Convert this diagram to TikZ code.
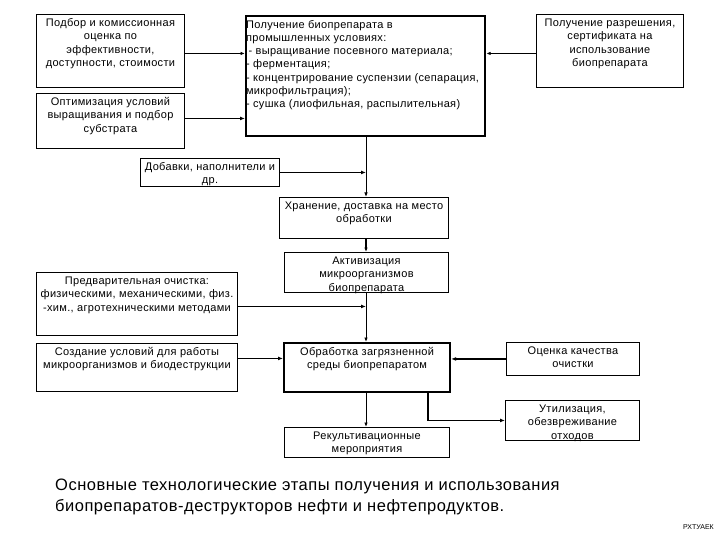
\documentclass[tikz,border=0pt]{standalone}
\usepackage{fontspec}
\setmainfont{Liberation Sans}
\usetikzlibrary{arrows.meta,calc}
\newfontfamily\boxfont[LetterSpace=3]{Liberation Sans}
\newfontfamily\capfont[LetterSpace=3]{Liberation Sans}
\newcommand{\bxt}[3]{\parbox[t][#2][t]{#1}{\centering\boxfont\fontsize{11}{13.3}\selectfont\rule{0pt}{12pt}#3}}
\newcommand{\bxl}[3]{\parbox[t][#2][t]{#1}{\raggedright\boxfont\fontsize{11}{13.3}\selectfont\rule{0pt}{12pt}#3}}
\tikzset{
  box/.style={draw, line width=0.9pt, inner sep=0pt, anchor=north west},
  thickbox/.style={box, line width=2.2pt},
  conn/.style={-{Latex[length=4.5pt,width=3.5pt]}, line width=0.9pt},
  tconn/.style={-{Latex[length=5pt,width=4pt]}, line width=1.8pt},
}
\begin{document}
\begin{tikzpicture}[x=1pt, y=-1pt]
\path[use as bounding box, fill=white] (0,0) rectangle (720,540);
\coordinate (vx) at (366,0);
\coordinate (jm) at (428,0);
\node[box] (A) at (36,14) {\bxt{148pt}{73pt}{Подбор и комиссионная\\оценка по\\эффективности,\\доступности, стоимости}};
\node[box] (B) at (36,93) {\bxt{148pt}{55pt}{Оптимизация условий\\выращивания и подбор\\субстрата}};
\node[thickbox] (C) at (245,15) {\bxl{239pt}{120pt}{Получение биопрепарата в\\промышленных условиях:\\\hspace*{2.5pt}- выращивание посевного материала;\\- ферментация;\\- концентрирование суспензии (сепарация,\\микрофильтрация);\\- сушка (лиофильная, распылительная)}};
\node[box] (D) at (536,14) {\bxt{147pt}{73pt}{Получение разрешения,\\сертификата на\\использование\\биопрепарата}};
\node[box] (E) at (140,158) {\bxt{139pt}{28pt}{Добавки, наполнители и\\др.}};
\node[box] (F) at (279,197) {\bxt{169pt}{41pt}{Хранение, доставка на место\\обработки}};
\node[box] (G) at (284,252) {\bxt{164pt}{40pt}{Активизация\\микроорганизмов\\биопрепарата}};
\node[box] (H) at (36,272) {\bxt{201pt}{63pt}{Предварительная очистка:\\физическими, механическими, физ.\\-хим., агротехническими методами}};
\node[box] (I) at (36,343) {\bxt{201pt}{48pt}{Создание условий для работы\\микроорганизмов и биодеструкции}};
\node[thickbox] (J) at (283,342) {\bxt{166pt}{49pt}{Обработка загрязненной\\среды биопрепаратом}};
\node[box] (K) at (506,342) {\bxt{133pt}{33pt}{Оценка качества\\очистки}};
\node[box] (L) at (284,427) {\bxt{165pt}{30pt}{Рекультивационные\\мероприятия}};
\node[box] (M) at (505,400) {\bxt{134pt}{40pt}{Утилизация,\\обезвреживание\\отходов}};
\node[anchor=north west, inner sep=0pt, align=left, font=\capfont\fontsize{16.5}{21}\selectfont] (cap) at (55,479) {Основные технологические этапы получения и использования\\биопрепаратов-деструкторов нефти и нефтепродуктов.};
\node[anchor=east, inner sep=0pt, font=\fontsize{7}{8}\selectfont] (mark) at (714,527) {РХТУАЕК};
\draw[conn] ([yshift=-2.5pt]A.east) -- ([yshift=-2.5pt]A.east -| C.west);
\draw[tconn] ([yshift=2.5pt]B.east) -- ([yshift=2.5pt]B.east -| C.west);
\draw[conn] ([yshift=-2.5pt]D.west) -- ([yshift=-2.5pt]D.west -| C.east);
\draw[conn] (C.south -| vx) -- (F.north -| vx);
\draw[tconn] (E.east) -- (E.east -| vx);
\draw[conn, line width=1.4pt] (F.south -| vx) -- (G.north -| vx);
\draw[tconn] ([yshift=-2.5pt]H.east) -- ([yshift=-2.5pt]H.east -| vx);
\draw[conn] (G.south -| vx) -- (J.north -| vx);
\draw[tconn] ([yshift=9pt]I.east) -- ([yshift=9pt]I.east -| J.west);
\draw[tconn] (K.west) -- (K.west -| J.east);
\draw[conn] (J.south -| vx) -- (L.north -| vx);
\draw[tconn] (J.south -| jm) |- (M.west);
\end{tikzpicture}
\end{document}
